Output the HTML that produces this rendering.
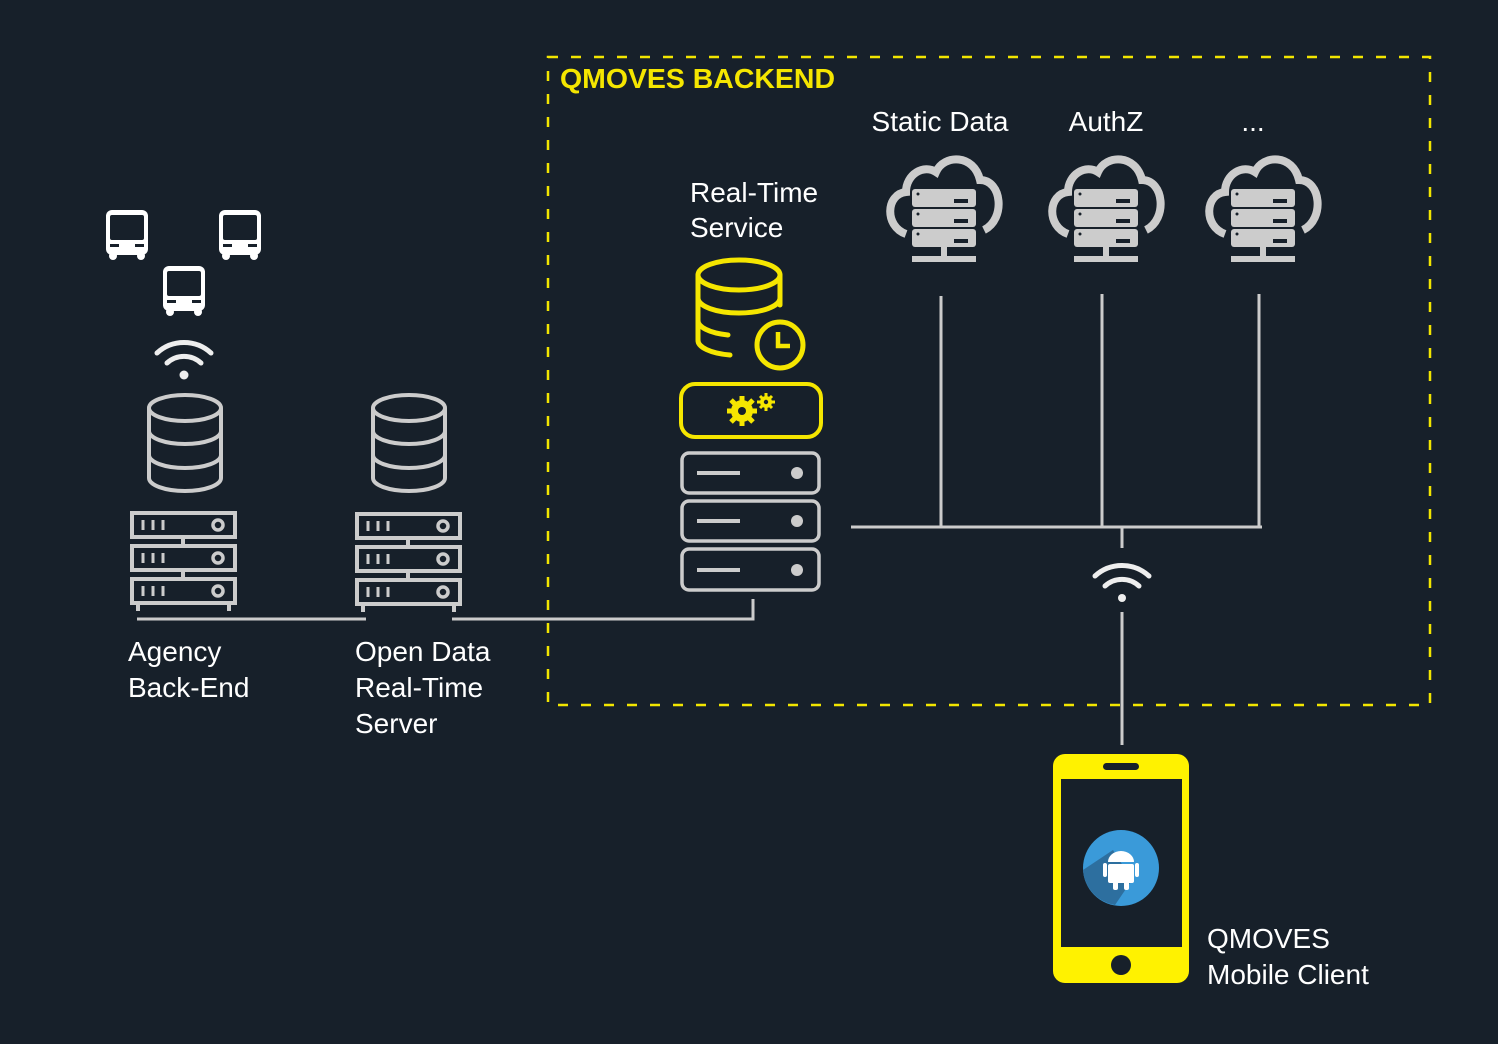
<!DOCTYPE html>
<html><head><meta charset="utf-8"><style>
html,body{margin:0;padding:0;background:#17202a;}
svg{display:block}
text{font-family:"Liberation Sans",Arial,sans-serif;}
</style></head><body>
<svg width="1498" height="1044" viewBox="0 0 1498 1044" xmlns="http://www.w3.org/2000/svg">
<defs>
<g id="bus">
 <rect x="0" y="0" width="42" height="45" rx="6" fill="#fff"/>
 <rect x="4" y="5" width="34" height="25" rx="2" fill="#17202a"/>
 <rect x="4" y="34" width="9" height="3" fill="#17202a"/>
 <rect x="29" y="34" width="9" height="3" fill="#17202a"/>
 <circle cx="7" cy="46" r="4" fill="#fff"/><circle cx="35" cy="46" r="4" fill="#fff"/>
</g>
<g id="wifi" fill="none" stroke-linecap="round">
 <path d="M-27,-22 A40,40 0 0 1 27,-22" stroke-width="5"/>
 <path d="M-17,-12 A25,25 0 0 1 17,-12" stroke-width="5"/>
</g>
<g id="db" fill="none" stroke="#ccc" stroke-width="4">
 <ellipse cx="0" cy="-35" rx="36" ry="13"/>
 <path d="M-36,-35 V35 A36,13 0 0 0 36,35 V-35"/>
 <path d="M-36,-12 A36,13 0 0 0 36,-12"/>
 <path d="M-36,12 A36,13 0 0 0 36,12"/>
</g>
<g id="rack" fill="none" stroke="#ccc" stroke-width="4">
 <rect x="2" y="2" width="103" height="24"/>
 <rect x="2" y="35" width="103" height="24"/>
 <rect x="2" y="68" width="103" height="24"/>
 <path d="M53,26V35M53,59V68M8,92V100M99,92V100"/>
 <path d="M13,9v10M23,9v10M33,9v10M13,42v10M23,42v10M33,42v10M13,75v10M23,75v10M33,75v10" stroke-width="3"/>
 <circle cx="88" cy="14" r="5" stroke-width="3.5"/><circle cx="88" cy="47" r="5" stroke-width="3.5"/><circle cx="88" cy="80" r="5" stroke-width="3.5"/>
</g>
<g id="cloud">
 <path d="M-38,40 C-60,32 -58,0 -38,-2 C-38,-20 -20,-30 -8,-22 C0,-40 30,-40 36,-14 C58,-14 62,25 40,36" fill="none" stroke="#ccc" stroke-width="8"/>
 <g fill="#ccc">
  <rect x="-32" y="-5" width="64" height="18" rx="3"/>
  <rect x="-32" y="15" width="64" height="18" rx="3"/>
  <rect x="-32" y="35" width="64" height="18" rx="3"/>
  <rect x="-3" y="53" width="6" height="14"/>
  <rect x="-32" y="62" width="64" height="6"/>
 </g>
 <g fill="#17202a">
  <circle cx="-26" cy="0" r="1.5"/><circle cx="-26" cy="20" r="1.5"/><circle cx="-26" cy="40" r="1.5"/>
  <rect x="10" y="5" width="14" height="4"/><rect x="10" y="25" width="14" height="4"/><rect x="10" y="45" width="14" height="4"/>
 </g>
</g>
</defs>

<rect x="548" y="57" width="882" height="648" fill="none" stroke="#f2e500" stroke-width="2.5" stroke-dasharray="10,13"/>
<text x="560" y="88" font-size="28" font-weight="bold" fill="#f5e600" textLength="275" lengthAdjust="spacingAndGlyphs">QMOVES BACKEND</text>

<use href="#bus" x="106" y="210"/>
<use href="#bus" x="219" y="210"/>
<use href="#bus" x="163" y="266"/>
<g stroke="#eee"><use href="#wifi" transform="translate(184,375)"/></g>
<circle cx="184" cy="375" r="4.5" fill="#eee"/>

<use href="#db" transform="translate(185,443)"/>
<use href="#db" transform="translate(409,443)"/>
<use href="#rack" x="130" y="511"/>
<use href="#rack" x="355" y="512"/>

<g stroke="#ccc" stroke-width="3" fill="none">
 <path d="M137,619H366"/>
 <path d="M452,619H753V599"/>
 <path d="M941,296V527M1102,294V527M1259,294V527M851,527H1262M1122,527V548M1122,612V745"/>
</g>
<g stroke="#eee"><use href="#wifi" transform="translate(1122,598)"/></g>
<circle cx="1122" cy="598" r="4" fill="#eee"/>

<g fill="#fff" font-size="28">
 <text x="128" y="661">Agency</text><text x="128" y="697">Back-End</text>
 <text x="355" y="661">Open Data</text><text x="355" y="697">Real-Time</text><text x="355" y="733">Server</text>
 <text x="690" y="202">Real-Time</text><text x="690" y="237">Service</text>
 <text x="940" y="131" text-anchor="middle">Static Data</text>
 <text x="1106" y="131" text-anchor="middle">AuthZ</text>
 <text x="1253" y="131" text-anchor="middle">...</text>
 <text x="1207" y="948">QMOVES</text><text x="1207" y="984">Mobile Client</text>
</g>

<g fill="none" stroke="#f5e600" stroke-width="5" stroke-linecap="round">
 <ellipse cx="739" cy="275" rx="41" ry="15"/>
 <path d="M698,275V340A41,15 0 0 0 730,355"/>
 <path d="M780,275V305"/>
 <path d="M698,298A41,15 0 0 0 780,298"/>
 <path d="M698,320A41,15 0 0 0 728,335"/>
 <circle cx="780" cy="345" r="23"/>
 <path d="M778,332V346H790" stroke-width="4.5" stroke-linecap="butt"/>
 <rect x="681" y="384" width="140" height="53" rx="14" stroke-width="4"/>
</g>
<g fill="#f5e600">
 <circle cx="742" cy="411" r="11"/>
 <g stroke="#f5e600" stroke-width="5">
  <path d="M742,396V426M727,411H757M731,400L753,422M753,400L731,422"/>
 </g>
 <circle cx="742" cy="411" r="4" fill="#17202a"/>
 <circle cx="766" cy="402" r="6"/>
 <g stroke="#f5e600" stroke-width="3"><path d="M766,393V411M757,402H775M760,396L772,408M772,396L760,408"/></g>
 <circle cx="766" cy="402" r="2.2" fill="#17202a"/>
</g>
<g fill="none" stroke="#ccc" stroke-width="3.5">
 <rect x="682" y="453" width="137" height="40" rx="7"/>
 <rect x="682" y="501" width="137" height="40" rx="7"/>
 <rect x="682" y="549" width="137" height="41" rx="7"/>
 <path d="M697,473H740M697,521H740M697,570H740" stroke-width="4"/>
</g>
<g fill="#ccc"><circle cx="797" cy="473" r="6"/><circle cx="797" cy="521" r="6"/><circle cx="797" cy="570" r="6"/></g>

<use href="#cloud" transform="translate(944,194)"/>
<use href="#cloud" transform="translate(1106,194)"/>
<use href="#cloud" transform="translate(1263,194)"/>

<rect x="1053" y="754" width="136" height="229" rx="12" fill="#fff200"/>
<rect x="1061" y="779" width="121" height="168" fill="#17202a"/>
<rect x="1103" y="763" width="36" height="7" rx="3.5" fill="#17202a"/>
<circle cx="1121" cy="965" r="10" fill="#17202a"/>
<circle cx="1121" cy="868" r="38" fill="#3a9ad9"/>
<path d="M1083,870 L1113,850 L1132,880 L1115,905 A38,38 0 0 1 1083,870Z" fill="#2d6f9f"/>
<g fill="#fff">
 <path d="M1108,862 A13,11 0 0 1 1134,862Z"/>
 <rect x="1108" y="864" width="26" height="19" rx="2"/>
 <rect x="1103" y="863" width="4" height="14" rx="2"/>
 <rect x="1135" y="863" width="4" height="14" rx="2"/>
 <rect x="1113" y="880" width="5" height="10" rx="2"/>
 <rect x="1124" y="880" width="5" height="10" rx="2"/>
</g>
</svg>
</body></html>
